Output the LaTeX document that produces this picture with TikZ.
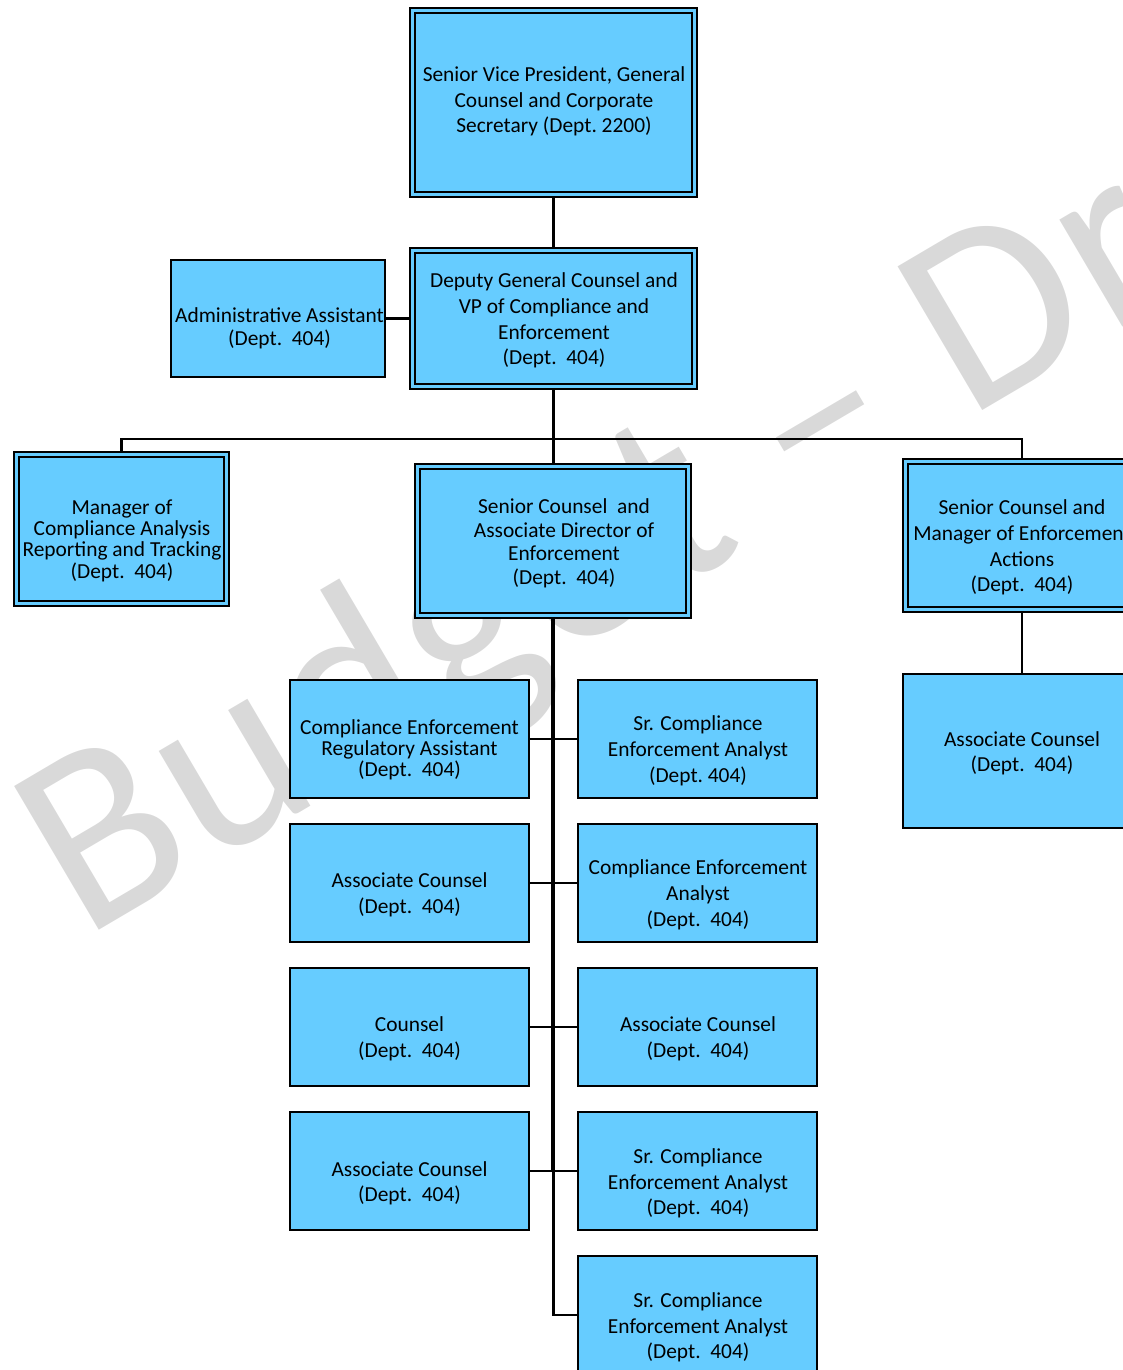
\documentclass[tikz,border=0pt]{standalone}
\usepackage{fontspec}
\setmainfont{Carlito}
\newfontfamily\wmfont[LetterSpace=1.6]{Carlito}
\definecolor{boxblue}{RGB}{102,204,255}
\definecolor{wmgray}{RGB}{217,217,217}
\newcommand{\fsz}[1]{\fontsize{21.4pt}{#1pt}\selectfont}
\begin{document}
\begin{tikzpicture}[x=1pt,y=-1pt,
  box/.style={rectangle, draw=black, fill=boxblue, line width=1.9pt, inner sep=0pt, outer sep=0.95pt},
  dbl/.style={box, double=boxblue, double distance=3pt, outer sep=3.5pt},
  txt/.style={align=center, inner sep=0pt, text=black, yshift=-2pt},
  conn/.style={draw=black, line width=2.2pt},
  wmk/.style={inner sep=0pt, text=wmgray, font=\wmfont\fontsize{260pt}{300pt}\selectfont}]
\useasboundingbox (0,0) rectangle (1123,1370);
\clip (0,0) rectangle (1123,1370);

% watermark
\node[wmk, rotate=30.5, anchor=base west] (wm) at (83,940) {Budget – Draft};

% boxes
\node[dbl, minimum width=282, minimum height=184] (svp) at (553.5,102.5) {};
\node[dbl, minimum width=282, minimum height=136] (dep) at (553.5,318.5) {};
\node[box, minimum width=214, minimum height=117] (adm) at (278,318.5) {};
\node[dbl, minimum width=210, minimum height=149] (mgr) at (121.5,529) {};
\node[dbl, minimum width=271, minimum height=149] (scad) at (553,541) {};
\node[dbl, minimum width=233, minimum height=148] (scme) at (1022,535.5) {};
\node[box, minimum width=238, minimum height=154] (acr) at (1022,751) {};
\foreach \n/\yy in {1/739, 2/883, 3/1027, 4/1171} {
  \node[box, minimum width=239, minimum height=118] (r\n L) at (409.5,\yy) {};
  \node[box, minimum width=239, minimum height=118] (r\n R) at (697.5,\yy) {};
}
\node[box, minimum width=239, minimum height=118] (r5R) at (697.5,1315) {};

% texts
\node[txt, font=\fsz{25.5}] (svpT) at ([shift={(0.5,-3)}]svp.center) {Senior Vice President, General\\Counsel and Corporate\\Secretary (Dept.\ 2200)};
\node[txt, font=\fsz{25.7}] (depT) at ([shift={(0.5,0)}]dep.center) {Deputy General Counsel and\\VP of Compliance and\\Enforcement\\(Dept.\ \ 404)};
\node[txt, font=\fsz{23}] (admT) at ([shift={(1.5,8)}]adm.center) {Administrative Assistant\\(Dept.\ \ 404)};
\node[txt, font=\fsz{21.3}] (mgrT) at ([shift={(0.5,9.5)}]mgr.center) {Manager of\\Compliance Analysis\\Reporting and Tracking\\(Dept.\ \ 404)};
\node[txt, font=\fsz{23.7}] (scadT) at ([shift={(11,0.3)}]scad.center) {Senior Counsel\ \ and\\Associate Director of\\Enforcement\\(Dept.\ \ 404)};
\node[txt, font=\fsz{25.7}] (scmeT) at ([shift={(0,10)}]scme.center) {Senior Counsel and\\Manager of Enforcement\\Actions\\(Dept.\ \ 404)};
\node[txt, font=\fsz{25}] (acrT) at ([shift={(0,0.5)}]acr.center) {Associate Counsel\\(Dept.\ \ 404)};
\node[txt, font=\fsz{21}] (r1LT) at ([shift={(0,9)}]r1L.center) {Compliance Enforcement\\Regulatory Assistant\\(Dept.\ \ 404)};
\node[txt, font=\fsz{26}] (r1RT) at ([shift={(0.5,10)}]r1R.center) {Sr. Compliance\\Enforcement Analyst\\(Dept.\ 404)};
\node[txt, font=\fsz{26}] (r2LT) at ([shift={(0,10)}]r2L.center) {Associate Counsel\\(Dept.\ \ 404)};
\node[txt, font=\fsz{26}] (r2RT) at ([shift={(0.5,10)}]r2R.center) {Compliance Enforcement\\Analyst\\(Dept.\ \ 404)};
\node[txt, font=\fsz{26}] (r3LT) at ([shift={(0,10)}]r3L.center) {Counsel\\(Dept.\ \ 404)};
\node[txt, font=\fsz{26}] (r3RT) at ([shift={(0.5,10)}]r3R.center) {Associate Counsel\\(Dept.\ \ 404)};
\node[txt, font=\fsz{25}] (r4LT) at ([shift={(0,10.5)}]r4L.center) {Associate Counsel\\(Dept.\ \ 404)};
\node[txt, font=\fsz{25.5}] (r4RT) at ([shift={(0.5,10.5)}]r4R.center) {Sr. Compliance\\Enforcement Analyst\\(Dept.\ \ 404)};
\node[txt, font=\fsz{25.5}] (r5RT) at ([shift={(0.5,10.5)}]r5R.center) {Sr. Compliance\\Enforcement Analyst\\(Dept.\ \ 404)};

% connectors
\coordinate (bus) at (553.5,439);
\draw[conn] (svp.south) -- (dep.north);
\draw[conn] (adm.east) -- (dep.west);
\draw[conn] (dep.south) -- (dep.south |- scad.north);
\draw[conn] (mgr.north) |- (bus) -| (scme.north);
\draw[conn] (scme.south) -- (acr.north);
\foreach \n in {1,2,3,4} {
  \draw[conn] ([xshift=-0.5pt]scad.south) |- (r\n L.east);
  \draw[conn] ([xshift=0.5pt]scad.south) |- (r\n R.west);
}
\draw[conn] ([xshift=0.5pt]scad.south) |- (r5R.west);
\end{tikzpicture}
\end{document}
